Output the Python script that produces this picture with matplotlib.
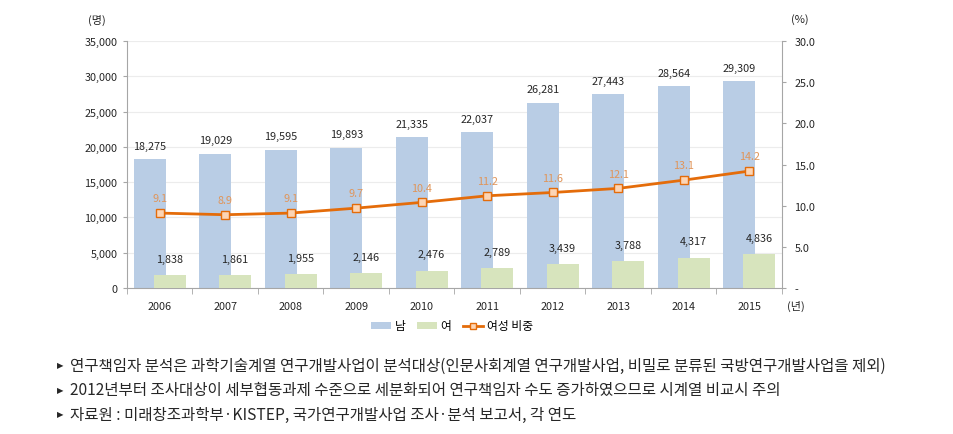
import matplotlib
matplotlib.use("Agg")
import matplotlib.pyplot as plt
from matplotlib.patches import Patch
from matplotlib.lines import Line2D
import numpy as np

plt.rcParams["font.family"] = ["Noto Sans CJK KR", "DejaVu Sans"]

years = ["2006", "2007", "2008", "2009", "2010", "2011", "2012", "2013", "2014", "2015"]
male = [18275, 19029, 19595, 19893, 21335, 22037, 26281, 27443, 28564, 29309]
female = [1838, 1861, 1955, 2146, 2476, 2789, 3439, 3788, 4317, 4836]
female_share = [9.1, 8.9, 9.1, 9.7, 10.4, 11.2, 11.6, 12.1, 13.1, 14.2]

notes = [
    "연구책임자 분석은 과학기술계열 연구개발사업이 분석대상(인문사회계열 연구개발사업, 비밀로 분류된 국방연구개발사업을 제외)",
    "2012년부터 조사대상이 세부협동과제 수준으로 세분화되어 연구책임자 수도 증가하였으므로 시계열 비교시 주의",
    "자료원 : 미래창조과학부·KISTEP, 국가연구개발사업 조사·분석 보고서, 각 연도",
]

MALE_C = "#b9cde5"
FEMALE_C = "#d7e4bd"
LINE_C = "#e46c0a"
PCT_TXT = "#e0955a"
GRAY = "#a6a6a6"
TXT = "#262626"

fig = plt.figure(figsize=(9.54, 4.35), dpi=100)
ax = fig.add_axes([127 / 954, 1 - 289 / 435, 655 / 954, 247 / 435])
ax2 = ax.twinx()

x = np.arange(len(years))
w = 0.49
off = 0.15

ax.bar(x - off, male, width=w, color=MALE_C, zorder=2)
ax.bar(x + off, female, width=w, color=FEMALE_C, zorder=3)

for xi, v in zip(x, male):
    ax.annotate(f"{v:,}", (xi - off, v), xytext=(0, 6), textcoords="offset points",
                ha="center", va="bottom", fontsize=7.8, color=TXT)
for xi, v in zip(x, female):
    ax.annotate(f"{v:,}", (xi + off, v), xytext=(0, 8), textcoords="offset points",
                ha="center", va="bottom", fontsize=7.8, color=TXT)

ax2.plot(x, female_share, color=LINE_C, linewidth=2, marker="s", markersize=5.5,
         markerfacecolor="#fcd5b5", markeredgecolor=LINE_C, markeredgewidth=1, zorder=5)
for xi, v in zip(x, female_share):
    ax2.annotate(f"{v:.1f}", (xi, v), xytext=(0, 7), textcoords="offset points",
                 ha="center", va="bottom", fontsize=7.8, color=PCT_TXT)

ax.set_xlim(-0.5, len(years) - 0.5)
ax.set_ylim(0, 35000)
ax.set_yticks(np.arange(0, 35001, 5000))
ax.set_yticklabels([f"{int(t):,}" for t in np.arange(0, 35001, 5000)])
ax2.set_ylim(0, 30)
ax2.set_yticks(np.arange(0, 30.1, 5))
ax2.set_yticklabels(["-"] + [f"{t:.1f}" for t in np.arange(5, 30.1, 5)])

ax.set_xticks(x)
ax.set_xticklabels(years)
ax.set_xticks(np.arange(-0.5, len(years), 1), minor=True)
ax.tick_params(axis="x", which="major", length=0, pad=9, labelsize=7.8, colors=TXT)
ax.tick_params(axis="x", which="minor", length=4, color=GRAY, direction="out")
ax.tick_params(axis="y", length=3, color=GRAY, labelsize=7.8, labelcolor=TXT, pad=4)
ax2.tick_params(axis="y", length=3, color=GRAY, labelsize=7.8, labelcolor=TXT, pad=6)

ax.grid(axis="y", color="#ececec", linewidth=0.8, zorder=0)
ax.set_axisbelow(True)
for a in (ax, ax2):
    a.spines["top"].set_visible(False)
    for s in ("left", "right", "bottom"):
        a.spines[s].set_color(GRAY)
ax2.spines["left"].set_visible(False)
ax2.spines["bottom"].set_visible(False)
ax.spines["right"].set_visible(False)

fig.text(97 / 954, 1 - 20 / 435, "(명)", ha="center", va="center", fontsize=8, color=TXT)
fig.text(800 / 954, 1 - 20 / 435, "(%)", ha="center", va="center", fontsize=8, color=TXT)
fig.text(796 / 954, 1 - 306 / 435, "(년)", ha="center", va="center", fontsize=8, color=TXT)

handles = [
    Patch(facecolor=MALE_C, label="남"),
    Patch(facecolor=FEMALE_C, label="여"),
    Line2D([], [], color=LINE_C, linewidth=2, marker="s", markersize=5,
           markerfacecolor="#fcd5b5", markeredgecolor=LINE_C, label="여성 비중"),
]
fig.legend(handles=handles, loc="center", bbox_to_anchor=(452 / 954, 1 - 327 / 435),
           ncol=3, frameon=False, fontsize=8.5, handlelength=1.7, handleheight=0.6,
           columnspacing=1.0, handletextpad=0.3)

for i, note in enumerate(notes):
    yy = 1 - (366 + 24.5 * i) / 435
    fig.text(57 / 954, yy, "▶", ha="left", va="center", fontsize=6, color=TXT,
             family=["DejaVu Sans"])
    fig.text(70 / 954, yy, note, ha="left", va="center", fontsize=11.2, color=TXT)

fig.savefig("out.png", dpi=100, facecolor="white")
